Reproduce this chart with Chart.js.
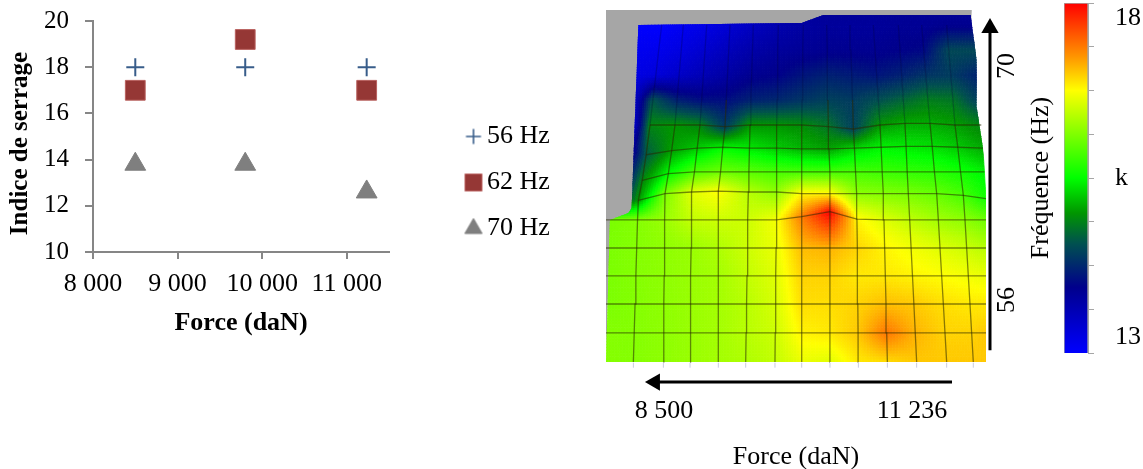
<!DOCTYPE html>
<html>
<head>
<meta charset="utf-8">
<title>Indice de serrage et fréquence</title>
<script src="https://cdn.jsdelivr.net/npm/chart.js@4"></script>
<style>
  html, body { margin: 0; background: #fff; overflow: hidden; }
  canvas { position: absolute; }
  #scatter { left: 0; top: 0; }
  #surface { left: 606px; top: 0; }
  #colorbar { left: 1020px; top: 0; }
</style>
</head>
<body>
<canvas id="scatter" width="560" height="362"></canvas>
<canvas id="surface" width="414" height="469"></canvas>
<canvas id="colorbar" width="123" height="369"></canvas>
<script>
// left chart
const FORCES = [8500, 9800, 11236];
const SERIES_NAMES = ["56 Hz", "62 Hz", "70 Hz"];
const INDEX_56 = [18, 18, 18];
const INDEX_62 = [17, 19.2, 17];
const INDEX_70 = [13.8, 13.8, 12.6];
const X_TICKS = [8000, 9000, 10000, 11000];
const X_TICK_LABELS = ["8 000", "9 000", "10 000", "11 000"];

// right chart : mesh nodes (force in daN, frequency in Hz)
const FORCE_BOTTOM = [7860, 8162, 8493, 8787, 9099, 9401, 9724, 10019, 10331, 10644, 10964, 11287, 11618, 11912, 12052];
const FORCE_KNEE = [7860, 8217, 8511, 8805, 9099, 9430, 9743, 10019, 10331, 10625, 10919, 11195, 11508, 11802, 12052];
const FORCE_MID = [8162, 8346, 8621, 8897, 9173, 9449, 9743, 10019, 10313, 10589, 10883, 11158, 11434, 11710, 12000];
const FORCE_TOP = [8100, 8474, 8713, 8971, 9228, 9485, 9761, 10037, 10294, 10552, 10809, 11085, 11342, 11618, 11950];
const FREQ_ROWS = [52.29, 54.03, 55.76, 57.44, 59.11, 60.79, 62.46, 63.66, 65.09, 66.47, 67.97, 69.46, 70.96, 72.45, 73.35];
const FREQ_BEND = {
  5: [0, 0, 0, 0, 0, 0, 0, .2, .5, .05, 0, 0, 0, 0, 0],
  6: [0, -.5, -.1, 0, .05, 0, 0, -.1, -.1, -.1, -.1, -.1, -.1, -.2, -.4],
  7: [0, -.5, -.1, 0, 0, 0, 0, 0, 0, 0, 0, 0, 0, 0, 0],
  8: [0, -.4, -.15, 0, .05, 0, 0, -.05, -.05, 0, .05, .1, .1, .05, 0],
  9: [0, 0, 0, 0, -.1, 0, 0, 0, -.1, -.24, 0, .1, .1, 0, 0]
};
const KHZ = [
  [16.15, 16.15, 16.2, 16.25, 16.3, 16.35, 16.45, 16.65, 16.6, 16.85, 16.9, 17, 17, 17, 17],
  [16.15, 16.15, 16.2, 16.25, 16.3, 16.4, 16.5, 16.8, 16.85, 17, 17.4, 17.1, 16.95, 16.95, 17],
  [16.1, 16.15, 16.2, 16.25, 16.3, 16.4, 16.55, 16.9, 16.9, 16.95, 17.05, 17, 16.9, 16.85, 16.85],
  [16.1, 16.15, 16.2, 16.25, 16.3, 16.45, 16.6, 16.95, 16.95, 16.85, 16.85, 16.8, 16.75, 16.7, 16.65],
  [16.1, 16.15, 16.2, 16.25, 16.35, 16.5, 16.65, 17.05, 17.1, 16.95, 16.8, 16.7, 16.6, 16.5, 16.4],
  [16.1, 16.15, 16.25, 16.45, 16.5, 16.5, 16.7, 17.35, 18, 16.8, 16.6, 16.45, 16.3, 16.2, 16.05],
  [13.6, 15, 16.1, 16.6, 16.75, 16.4, 16.2, 16.8, 16.8, 16.2, 16.15, 16.1, 16, 15.85, 15.6],
  [13.3, 14.9, 15.5, 15.9, 16.05, 15.95, 15.85, 15.85, 15.85, 15.85, 15.8, 15.75, 15.7, 15.6, 15.45],
  [13.3, 14.6, 15.05, 15.25, 15.5, 15.4, 15.25, 15.15, 15.05, 15.3, 15.45, 15.4, 15.35, 15.25, 15.1],
  [13.3, 14.9, 15, 14.9, 14.4, 15, 15, 14.95, 14.8, 14.45, 15, 15.1, 15.1, 15.05, 14.9],
  [13.25, 14.6, 14.2, 14.05, 14.05, 14.2, 14.25, 14.35, 14.45, 14.4, 14.55, 14.7, 14.85, 14.8, 14.4],
  [13.2, 13.3, 13.45, 13.6, 13.75, 13.9, 13.95, 14.1, 14.2, 14.15, 14.1, 14.2, 14.35, 14.4, 14.2],
  [13.1, 13.15, 13.25, 13.4, 13.55, 13.7, 13.8, 13.85, 13.9, 13.9, 13.9, 13.95, 14, 14.5, 14.5],
  [13, 13, 13.1, 13.2, 13.35, 13.5, 13.65, 13.75, 13.8, 13.8, 13.8, 13.85, 13.85, 13.9, 13.9],
  [13, 13, 13.1, 13.2, 13.35, 13.5, 13.7, 13.8, 13.85, 13.85, 13.85, 13.85, 13.85, 13.85, 13.85]
];
const SHAPE_FORCE = [7860, 12052, 12052, 11949, 11949, 11883, 10258, 10018, 8217, 8143, 8107, 7904];
const SHAPE_FREQ = [52.29, 52.29, 63.96, 67.55, 70.36, 73.05, 73.05, 72.57, 72.45, 61.5, 61.2, 60.79];
const BACK_FORCE = [7860, 7860, 11895, 11883, 7904];
const BACK_FREQ = [52.29, 73.35, 73.35, 72, 60];
const SURFACE_FORCE_TICKS = [8500, 11236];
const SURFACE_FORCE_LABELS = ["8 500", "11 236"];
const SURFACE_FREQ_TICKS = [56, 70];

// colour bar
const SCALE_VALUES = [13, 13.94, 14.56, 15, 15.5, 16.75, 17.23, 18];
const SCALE_RGB = [[0, 0, 255], [0, 0, 140], [0, 80, 80], [0, 150, 0], [0, 255, 0], [255, 255, 0], [255, 150, 0], [255, 0, 0]];
const SCALE_TICKS = [13, 13.625, 14.25, 14.875, 15.5, 16.125, 16.75, 17.375, 18];
const SCALE_LABEL_SPOTS = [13.22, 15.5, 17.78];
const SCALE_LABELS = ["13", "k", "18"];

const SERIF = "'Liberation Serif', 'Times New Roman', serif";
Chart.defaults.font.family = SERIF;
Chart.defaults.color = "#000";
Chart.defaults.animation = false;
Chart.defaults.layout.autoPadding = false;

function fixedTicks(list) {
  return scale => { scale.ticks = list.map(value => ({ value })); };
}
// fixed box for an axis, and no extra room taken for labels at its ends
function fixedBox(size) {
  return scale => {
    if (scale.isHorizontal()) scale.height = size; else scale.width = size;
    scale.paddingTop = scale.paddingBottom = scale.paddingLeft = scale.paddingRight = 0;
  };
}
function lerp(a, b, t) { return a + (b - a) * t; }

function markerCanvas(pointStyle, radius, fill, stroke, borderWidth) {
  const c = document.createElement("canvas");
  c.width = c.height = 26;
  const ctx = c.getContext("2d");
  ctx.fillStyle = fill;
  ctx.strokeStyle = stroke;
  ctx.lineWidth = borderWidth;
  Chart.helpers.drawPoint(ctx, { pointStyle, radius, borderWidth, rotation: 0 }, 13, 13);
  return c;
}
const LEGEND_MARKS = [
  markerCanvas("cross", 7.5, "#385d8a", "#385d8a", 1.6),
  markerCanvas("rect", 12, "#953735", "#b9615f", 1),
  markerCanvas("triangle", 10, "#7f7f7f", "#7f7f7f", 1)
];

// keeps the plot at its width and puts the legend where the figure has it
const legendSlot = {
  id: "legendSlot",
  beforeLayout(chart) {
    const legend = chart.legend;
    if (legend._slotted) return;
    legend._slotted = true;
    const fit = legend.fit;
    legend.fit = function () { fit.call(this); this.width = 171; };
  },
  afterLayout(chart) {
    const legend = chart.legend;
    legend.left = 473 - legend.options.labels.padding;
    legend.top -= 9;
    legend.bottom -= 9;
    chart.scales.yName.top += 14;
  }
};

new Chart(document.getElementById("scatter"), {
  type: "scatter",
  data: {
    datasets: [
      { label: SERIES_NAMES[0], data: FORCES.map((x, i) => ({ x, y: INDEX_56[i] })), pointStyle: "cross",
        pointRadius: 9, borderColor: "#385d8a", backgroundColor: "#385d8a", pointBorderWidth: 2 },
      { label: SERIES_NAMES[1], data: FORCES.map((x, i) => ({ x, y: INDEX_62[i] })), pointStyle: "rect",
        pointRadius: 14, borderColor: "#b9615f", backgroundColor: "#953735", pointBorderWidth: 1 },
      { label: SERIES_NAMES[2], data: FORCES.map((x, i) => ({ x, y: INDEX_70[i] })), pointStyle: "triangle",
        pointRadius: 12, borderColor: "#7f7f7f", backgroundColor: "#7f7f7f", pointBorderWidth: 1 }
    ]
  },
  plugins: [legendSlot],
  options: {
    responsive: false,
    layout: { padding: { top: 21 } },
    plugins: {
      tooltip: { enabled: false },
      legend: {
        position: "right",
        labels: {
          font: { size: 26 },
          padding: 20,
          usePointStyle: true,
          pointStyleWidth: 1,
          generateLabels(chart) {
            const items = Chart.defaults.plugins.legend.labels.generateLabels(chart);
            items.forEach((item, i) => { item.pointStyle = LEGEND_MARKS[i]; });
            return items;
          }
        }
      }
    },
    scales: {
      x: {
        type: "linear", min: 8000, max: 11500,
        afterBuildTicks: fixedTicks(X_TICKS),
        afterFit: fixedBox(110),
        ticks: { font: { size: 26 }, padding: 10, maxRotation: 0, autoSkip: false,
          callback: v => X_TICK_LABELS[X_TICKS.indexOf(v)] },
        grid: { drawOnChartArea: false, tickLength: 7, color: "#868686", lineWidth: 2 },
        border: { color: "#868686", width: 2 },
        title: { display: true, text: "Force (daN)", font: { size: 26, weight: "bold" }, padding: { bottom: 23 } }
      },
      y: {
        min: 10, max: 20,
        afterFit: fixedBox(63),
        ticks: { stepSize: 2, font: { size: 25 }, padding: 16 },
        grid: { drawOnChartArea: false, tickLength: 8, color: "#868686", lineWidth: 2 },
        border: { color: "#868686", width: 2 }
      },
      yName: {
        position: "left", weight: 1, min: 10, max: 20,
        afterFit: fixedBox(30),
        ticks: { display: false },
        grid: { display: false, drawTicks: false },
        border: { display: false },
        title: { display: true, text: "Indice de serrage", font: { size: 25, weight: "bold" }, padding: { top: 6 } }
      }
    }
  }
});

function colorAt(v) {
  let i = 0;
  while (i < SCALE_VALUES.length - 2 && v > SCALE_VALUES[i + 1]) i++;
  const t = Math.min(1, Math.max(0, (v - SCALE_VALUES[i]) / (SCALE_VALUES[i + 1] - SCALE_VALUES[i])));
  const rgb = SCALE_RGB[i].map((c, k) => Math.round(lerp(c, SCALE_RGB[i + 1][k], t)));
  return `rgb(${rgb.join(",")})`;
}
function nodeForce(col, row) {
  if (row <= 6) return lerp(FORCE_BOTTOM[col], FORCE_KNEE[col], row / 6);
  if (row <= 9) return lerp(FORCE_KNEE[col], FORCE_MID[col], (row - 6) / 3);
  return lerp(FORCE_MID[col], FORCE_TOP[col], (row - 9) / 4);
}
function nodeFreq(col, row) {
  return FREQ_ROWS[row] + (FREQ_BEND[row] ? FREQ_BEND[row][col] : 0);
}
function tracePolygon(ctx, xs, ys, xScale, yScale) {
  ctx.beginPath();
  xs.forEach((f, i) => {
    const px = xScale.getPixelForValue(f), py = yScale.getPixelForValue(ys[i]);
    if (i) ctx.lineTo(px, py); else ctx.moveTo(px, py);
  });
  ctx.closePath();
}

// shaded surface, every quad of the mesh goes through the scales
const meshSurface = {
  id: "meshSurface",
  beforeDatasetsDraw(chart) {
    const { ctx, scales: { x, y } } = chart;
    const STEPS = 10;
    ctx.save();
    ctx.fillStyle = "#a6a6a6";
    tracePolygon(ctx, BACK_FORCE, BACK_FREQ, x, y);
    ctx.fill();
    tracePolygon(ctx, SHAPE_FORCE, SHAPE_FREQ, x, y);
    ctx.clip();
    ctx.lineWidth = 0.8;
    for (let r = 0; r < KHZ.length - 1; r++) {
      for (let c = 0; c < KHZ[r].length - 1; c++) {
        const px = [[c, r], [c + 1, r], [c + 1, r + 1], [c, r + 1]].map(([cc, rr]) =>
          [x.getPixelForValue(nodeForce(cc, rr)), y.getPixelForValue(nodeFreq(cc, rr)), KHZ[rr][cc]]);
        const at = (u, v) => [0, 1, 2].map(k =>
          lerp(lerp(px[0][k], px[1][k], u), lerp(px[3][k], px[2][k], u), v));
        for (let i = 0; i < STEPS; i++) {
          for (let j = 0; j < STEPS; j++) {
            const a = at(i / STEPS, j / STEPS), b = at((i + 1) / STEPS, j / STEPS);
            const d = at((i + 1) / STEPS, (j + 1) / STEPS), e = at(i / STEPS, (j + 1) / STEPS);
            const col = colorAt((a[2] + b[2] + d[2] + e[2]) / 4);
            ctx.fillStyle = ctx.strokeStyle = col;
            ctx.beginPath();
            ctx.moveTo(a[0], a[1]); ctx.lineTo(b[0], b[1]); ctx.lineTo(d[0], d[1]); ctx.lineTo(e[0], e[1]);
            ctx.closePath();
            ctx.fill();
            ctx.stroke();
          }
        }
      }
    }
    ctx.restore();
  }
};

// mesh lines hardly show in the blue part
const MESH_STYLE = {
  showLine: true, pointRadius: 0, borderColor: "rgba(40,40,0,0.55)", borderWidth: 1.3,
  segment: { borderColor: ctx => (ctx.p0.parsed.y >= 66.4 ? "rgba(0,0,50,0.25)" : undefined) }
};
const meshLines = [];
for (let c = 1; c <= 13; c++) {
  const data = [];
  for (let r = 0; r <= 13; r++) data.push({ x: nodeForce(c, r), y: nodeFreq(c, r) });
  meshLines.push({ ...MESH_STYLE, data });
}
for (let r = 1; r <= 9; r++) {
  const data = [];
  for (let c = r > 5 ? 1 : 0; c <= 14; c++) data.push({ x: nodeForce(c, r), y: nodeFreq(c, r) });
  meshLines.push({ ...MESH_STYLE, data, segment: {} });
}

new Chart(document.getElementById("surface"), {
  type: "scatter",
  data: {
    datasets: [
      ...meshLines,
      { data: FORCE_BOTTOM.slice(1, 14).map(x => ({ x, y: 52.1 })), pointStyle: "line", pointRotation: 90,
        pointRadius: 2.5, borderColor: "#c9cbe0", pointBorderWidth: 1 },
      { data: [{ x: 12096, y: 53 }, { x: 12096, y: 72.27 }], showLine: true, clip: false, borderColor: "#000",
        backgroundColor: "#000", borderWidth: 3, pointStyle: "triangle", pointRadius: [0, 10], pointBorderWidth: 0 },
      { data: [{ x: 11677, y: 51.09 }, { x: 8400, y: 51.09 }], showLine: true, clip: false, borderColor: "#000",
        backgroundColor: "#000", borderWidth: 3, pointStyle: "triangle", pointRadius: [0, 10],
        pointRotation: [0, -90], pointBorderWidth: 0 }
    ]
  },
  plugins: [meshSurface],
  options: {
    responsive: false,
    layout: { padding: { top: 10 } },
    plugins: { legend: { display: false }, tooltip: { enabled: false } },
    scales: {
      x: {
        type: "linear", min: 7860, max: 12052,
        afterBuildTicks: fixedTicks(SURFACE_FORCE_TICKS),
        afterFit: fixedBox(74),
        grid: { display: false, drawTicks: false },
        border: { display: false },
        ticks: { font: { size: 26 }, padding: 1, maxRotation: 0, autoSkip: false,
          callback: v => SURFACE_FORCE_LABELS[SURFACE_FORCE_TICKS.indexOf(v)] },
        title: { display: true, text: "Force (daN)", font: { size: 26, lineHeight: 0.9 }, padding: 0 }
      },
      y: {
        position: "right", min: 50.316, max: 73.35,
        afterBuildTicks: fixedTicks(SURFACE_FREQ_TICKS),
        afterFit: fixedBox(34),
        grid: { display: false, drawTicks: false },
        border: { display: false },
        ticks: { font: { size: 26 }, padding: 8, minRotation: 90, maxRotation: 90, crossAlign: "center", autoSkip: false }
      }
    }
  }
});

new Chart(document.getElementById("colorbar"), {
  type: "bar",
  data: {
    labels: [""],
    datasets: [{
      data: [[13, 18]],
      barPercentage: 1,
      categoryPercentage: 1,
      borderColor: "#a6a6a6",
      borderWidth: 1,
      backgroundColor(context) {
        const area = context.chart.chartArea;
        if (!area) return "#000";
        const g = context.chart.ctx.createLinearGradient(0, area.bottom, 0, area.top);
        SCALE_VALUES.forEach((v, i) => g.addColorStop((v - 13) / 5, `rgb(${SCALE_RGB[i].join(",")})`));
        return g;
      }
    }]
  },
  options: {
    responsive: false,
    layout: { padding: { top: 3, bottom: 16 } },
    plugins: { legend: { display: false }, tooltip: { enabled: false } },
    scales: {
      x: { display: false },
      y: {
        position: "right", min: 13, max: 18,
        afterBuildTicks: fixedTicks(SCALE_TICKS),
        afterFit: fixedBox(6),
        ticks: { display: false },
        grid: { drawOnChartArea: false, tickLength: 6, color: "#a6a6a6" },
        border: { color: "#a6a6a6" }
      },
      yLabels: {
        position: "right", min: 13, max: 18,
        afterBuildTicks: fixedTicks(SCALE_LABEL_SPOTS),
        afterFit: fixedBox(49),
        grid: { display: false, drawTicks: false },
        border: { display: false },
        ticks: { font: { size: 26 }, padding: 21, autoSkip: false,
          callback: v => SCALE_LABELS[SCALE_LABEL_SPOTS.indexOf(v)] }
      },
      yTitle: {
        position: "left", min: 13, max: 18,
        afterFit: fixedBox(44),
        ticks: { display: false },
        grid: { display: false, drawTicks: false },
        border: { display: false },
        title: { display: true, text: "Fréquence (Hz)", font: { size: 26 }, padding: { top: 6 } }
      }
    }
  }
});
</script>
</body>
</html>
